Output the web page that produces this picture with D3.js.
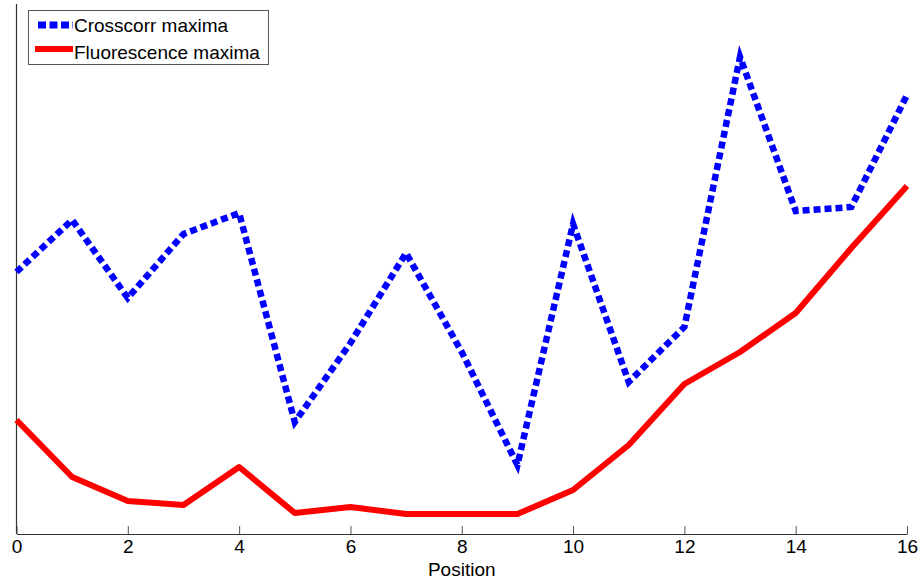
<!DOCTYPE html>
<html>
<head>
<meta charset="utf-8">
<script src="https://cdn.jsdelivr.net/npm/d3@7"></script>
<style>
  html, body { margin: 0; padding: 0; background: #fff; }
  svg { display: block; font-family: "Liberation Sans", Arial, sans-serif; }
</style>
</head>
<body>
<svg id="chart" width="922" height="581"></svg>
<script>
// Sample positions along the x axis
const positions = [0, 1, 2, 3, 4, 5, 6, 7, 8, 9, 10, 11, 12, 13, 14, 15, 16];
// Cross-correlation maxima per position (arbitrary units)
const crosscorr = [262, 314, 236, 300, 321, 112, 191, 281, 182, 69, 310, 152, 207, 477, 323, 327, 439];
// Fluorescence maxima per position (arbitrary units)
const fluorescence = [114, 57, 33, 29, 67, 21, 27, 20, 20, 20, 44, 89, 150, 182, 221, 286, 348];
const xTicks = [0, 2, 4, 6, 8, 10, 12, 14, 16];
const seriesNames = ["Crosscorr maxima", "Fluorescence maxima"];

const svg = d3.select("#chart");
const margin = { left: 16.5, right: 15, top: 4, bottom: 47 };
const W = 922, H = 581;

const x = d3.scaleLinear().domain([0, 16]).range([margin.left, W - margin.right]);
const y = d3.scaleLinear().domain([0, 530]).range([H - margin.bottom, margin.top]);

// Axes: bottom with inward ticks, left as a plain line
const xAxis = d3.axisBottom(x).tickValues(xTicks).tickSizeInner(-8).tickSizeOuter(0).tickPadding(6);
const gx = svg.append("g").attr("transform", `translate(0,${y(0)})`).call(xAxis);
gx.select(".domain").attr("stroke", "#333").attr("stroke-width", 1.2);
gx.selectAll(".tick line").attr("stroke", "#555").attr("stroke-width", 1);
gx.selectAll(".tick text").attr("font-size", 19).attr("fill", "#000")
  .attr("font-family", "'Liberation Sans', Arial, sans-serif");

svg.append("line")
  .attr("x1", x(0)).attr("x2", x(0))
  .attr("y1", y(530)).attr("y2", y(0))
  .attr("stroke", "#333").attr("stroke-width", 1.2);

svg.append("text")
  .attr("x", (x(0) + x(16)) / 2).attr("y", 576)
  .attr("text-anchor", "middle").attr("font-size", 19).attr("fill", "#000")
  .text("Position");

const line = d3.line().x((d, i) => x(positions[i])).y(d => y(d));

svg.append("path").datum(fluorescence)
  .attr("d", line).attr("fill", "none")
  .attr("stroke", "#ff0000").attr("stroke-width", 6).attr("stroke-linejoin", "round");

svg.append("path").datum(crosscorr)
  .attr("d", line).attr("fill", "none")
  .attr("stroke", "#0000ff").attr("stroke-width", 6.5).attr("stroke-dasharray", "7,4");

// Legend
const lg = svg.append("g");
lg.append("rect").attr("x", 28.5).attr("y", 10.5).attr("width", 240).attr("height", 54)
  .attr("fill", "#fff").attr("stroke", "#555").attr("stroke-width", 1);
lg.append("line").attr("x1", 38).attr("x2", 73).attr("y1", 25).attr("y2", 25)
  .attr("stroke", "#0000ff").attr("stroke-width", 7).attr("stroke-dasharray", "8,3.5");
lg.append("line").attr("x1", 35).attr("x2", 73).attr("y1", 49).attr("y2", 49)
  .attr("stroke", "#ff0000").attr("stroke-width", 6);
lg.selectAll("text.lab").data(seriesNames).enter().append("text")
  .attr("class", "lab")
  .attr("x", 74).attr("y", (d, i) => 32 + i * 27)
  .attr("font-size", 19).attr("fill", "#000")
  .text(d => d);
</script>
</body>
</html>
